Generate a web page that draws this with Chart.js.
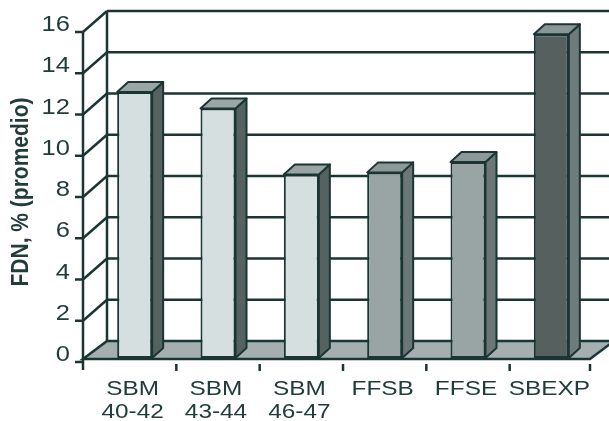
<!DOCTYPE html>
<html>
<head>
<meta charset="utf-8">
<script src="https://cdn.jsdelivr.net/npm/chart.js@4/dist/chart.umd.min.js"></script>
<style>
  html, body { margin: 0; padding: 0; background: #fff; }
  #wrap { width: 609px; height: 421px; }
</style>
</head>
<body>
<div id="wrap"><canvas id="fdn" width="609" height="421"></canvas></div>
<script>
// FDN (%) average per diet, drawn as 3D columns on a box frame.

const categories = [["SBM", "40-42"], ["SBM", "43-44"], ["SBM", "46-47"], ["FFSB"], ["FFSE"], ["SBEXP"]];
const fdnValues  = [12.9, 12.1, 8.9, 9.0, 9.5, 15.7];
const yTicks     = [0, 2, 4, 6, 8, 10, 12, 14, 16];
const yTitle     = "FDN, % (promedio)";

const INK   = "#1b3535";
const TEXT  = "#223c3c";
const FLOOR = "#a5afaf";
const FRONT = ["#d6dfdf", "#d6dfdf", "#d6dfdf", "#99a4a4", "#99a4a4", "#56615f"];
const SIDE  = ["#55625f", "#55625f", "#55625f", "#6b7777", "#6b7777", "#707b7b"];
const TOP   = ["#9aa5a5", "#9aa5a5", "#9aa5a5", "#8d9898", "#8d9898", "#8a9595"];

const FONT    = "'Liberation Sans', Arial, sans-serif";
const STRETCH = 1.16;      // scanned type runs a little wide

// box geometry
const DX = 24, DY = 21;            // depth of the walls
const BAR_DX = 11, BAR_DY = 10;    // depth of each column
const FRONT_SHIFT = 10;            // front axis sits left of the column plane
const FRONT_DROP = 4;              // ...and slightly lower

function wideText(ctx, str, x, y, align) {
  ctx.save();
  ctx.translate(x, y);
  ctx.scale(STRETCH, 1);
  ctx.textAlign = align;
  ctx.fillText(str, 0, 0);
  ctx.restore();
}

const frame3d = {
  id: "frame3d",
  beforeDatasetsDraw(chart) {
    const { ctx, chartArea: a, scales: { x, y } } = chart;
    const fx = a.left - FRONT_SHIFT;
    const bx = fx + DX;
    const top = yTicks[yTicks.length - 1];
    const yf = (v) => y.getPixelForValue(v) + FRONT_DROP;
    const yb = (v) => yf(v) - DY;
    const floorFront = y.getPixelForValue(0) + 1;
    const floorBack  = yb(0);
    const floorRight = a.right - 3;

    ctx.save();
    ctx.strokeStyle = INK;
    ctx.lineWidth = 2.5;
    ctx.lineJoin = "miter";

    // back wall grid
    yTicks.forEach((v) => {
      if (v === 0) return;
      ctx.beginPath();
      ctx.moveTo(bx, yb(v));
      ctx.lineTo(chart.width + 5, yb(v));
      ctx.stroke();
      // side wall diagonals
      ctx.beginPath();
      ctx.moveTo(fx, yf(v));
      ctx.lineTo(bx, yb(v));
      ctx.stroke();
    });
    ctx.beginPath();
    ctx.moveTo(bx, floorBack);
    ctx.lineTo(bx, yb(top));
    ctx.stroke();

    // floor
    ctx.fillStyle = FLOOR;
    ctx.beginPath();
    ctx.moveTo(fx, floorFront);
    ctx.lineTo(floorRight, floorFront);
    ctx.lineTo(floorRight + DX, floorBack);
    ctx.lineTo(bx, floorBack);
    ctx.closePath();
    ctx.fill();
    ctx.stroke();

    // front value axis with ticks
    ctx.beginPath();
    ctx.moveTo(fx, yf(top));
    ctx.lineTo(fx, yf(0) + 8);
    ctx.stroke();
    yTicks.forEach((v) => {
      ctx.beginPath();
      ctx.moveTo(fx - 8, yf(v));
      ctx.lineTo(fx, yf(v));
      ctx.stroke();
    });

    // category ticks under the floor
    const catW = x.getPixelForValue(1) - x.getPixelForValue(0);
    categories.forEach((c, i) => {
      const tx = i === categories.length - 1 ? floorRight : x.getPixelForValue(i) + catW / 2;
      ctx.beginPath();
      ctx.moveTo(tx, yf(0) + 2);
      ctx.lineTo(tx, yf(0) + 9);
      ctx.stroke();
    });
    ctx.restore();
  },

  afterDatasetsDraw(chart) {
    const { ctx, scales: { x, y } } = chart;
    const meta = chart.getDatasetMeta(0);

    ctx.save();
    ctx.strokeStyle = INK;
    ctx.lineWidth = 2;
    ctx.lineJoin = "round";
    meta.data.forEach((bar, i) => {
      const p = bar.getProps(["x", "y", "base", "width"], true);
      const l = p.x - p.width / 2, r = p.x + p.width / 2;
      // side face
      ctx.fillStyle = SIDE[i];
      ctx.beginPath();
      ctx.moveTo(r, p.y);
      ctx.lineTo(r + BAR_DX, p.y - BAR_DY);
      ctx.lineTo(r + BAR_DX, p.base - BAR_DY);
      ctx.lineTo(r, p.base);
      ctx.closePath();
      ctx.fill();
      ctx.stroke();
      // top face
      ctx.fillStyle = TOP[i];
      ctx.beginPath();
      ctx.moveTo(l, p.y);
      ctx.lineTo(r, p.y);
      ctx.lineTo(r + BAR_DX, p.y - BAR_DY);
      ctx.lineTo(l + BAR_DX, p.y - BAR_DY);
      ctx.closePath();
      ctx.fill();
      ctx.stroke();
    });

    // value labels
    ctx.fillStyle = TEXT;
    ctx.textBaseline = "middle";
    ctx.font = "22px " + FONT;
    const fx = chart.chartArea.left - FRONT_SHIFT;
    yTicks.forEach((v) => {
      wideText(ctx, String(v), fx - 13, y.getPixelForValue(v) - 3, "right");
    });

    // category labels
    ctx.font = "21px " + FONT;
    const y0 = y.getPixelForValue(0);
    categories.forEach((lines, i) => {
      lines.forEach((s, k) => {
        wideText(ctx, s, x.getPixelForValue(i) - 2, y0 + 31 + k * 23, "center");
      });
    });

    // axis title
    ctx.font = "bold 21px " + FONT;
    ctx.save();
    ctx.translate(22, 192);
    ctx.scale(1.1, 1);
    ctx.rotate(-Math.PI / 2);
    ctx.textAlign = "center";
    ctx.fillText(yTitle, 0, 0);
    ctx.restore();
    ctx.restore();
  }
};

new Chart(document.getElementById("fdn"), {
  type: "bar",
  data: {
    labels: categories,
    datasets: [{
      data: fdnValues,
      backgroundColor: FRONT,
      borderColor: INK,
      borderWidth: 2,
      borderSkipped: false,
      barPercentage: 0.42,
      categoryPercentage: 1
    }]
  },
  options: {
    responsive: false,
    animation: false,
    layout: { padding: { top: 28, bottom: 63, left: 93, right: 16 } },
    plugins: { legend: { display: false }, tooltip: { enabled: false } },
    scales: {
      x: { display: false, offset: true },
      y: { display: false, min: 0, max: 16, ticks: { stepSize: 2 } }
    }
  },
  plugins: [frame3d]
});
</script>
</body>
</html>
